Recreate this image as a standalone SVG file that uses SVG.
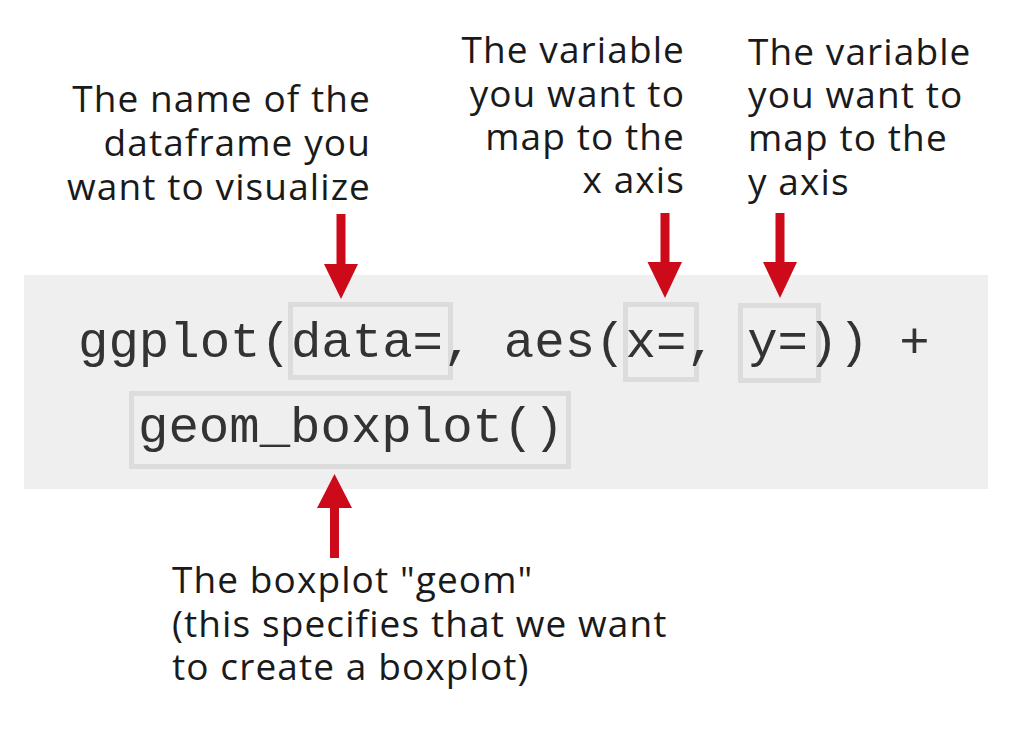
<svg xmlns="http://www.w3.org/2000/svg" width="1010" height="740" viewBox="0 0 1010 740">
<style>
.lbl{font-family:"Open Sans","Liberation Sans",sans-serif;font-size:37px;fill:#1a1a1a;letter-spacing:1.1px}
.code{font-family:"Liberation Mono","Courier New",monospace;font-size:50.7px;fill:#333333}
.box{fill:none;stroke:#dcdcdc;stroke-width:5}
.arr{fill:#cc0a19}
</style>
<rect width="1010" height="740" fill="#ffffff"/>
<g id="code-band">
<rect x="24" y="275" width="964" height="214" fill="#efefef"/>
</g>
<g id="box-data"><rect class="box" x="290.5" y="304.5" width="160" height="73"/></g>
<g id="box-x"><rect class="box" x="625.5" y="304.5" width="71" height="75"/></g>
<g id="box-y"><rect class="box" x="740.5" y="305.5" width="78" height="75"/></g>
<g id="box-geom"><rect class="box" x="131.5" y="393.5" width="437" height="73"/></g>
<g id="code">
<text class="code" x="78" y="357" xml:space="preserve">ggplot(data=, aes(x=, y=)) +</text>
<text class="code" x="138" y="442">geom_boxplot()</text>
</g>
<g id="label-data">
<text class="lbl" text-anchor="end" x="371" y="112">The name of the</text>
<text class="lbl" text-anchor="end" x="371" y="156">dataframe you</text>
<text class="lbl" text-anchor="end" x="371" y="200">want to visualize</text>
</g>
<g id="label-x">
<text class="lbl" text-anchor="end" x="685" y="63">The variable</text>
<text class="lbl" text-anchor="end" x="685" y="107">you want to</text>
<text class="lbl" text-anchor="end" x="685" y="150">map to the</text>
<text class="lbl" text-anchor="end" x="685" y="193">x axis</text>
</g>
<g id="label-y">
<text class="lbl" x="748" y="65">The variable</text>
<text class="lbl" x="748" y="108">you want to</text>
<text class="lbl" x="748" y="151">map to the</text>
<text class="lbl" x="748" y="195">y axis</text>
</g>
<g id="label-geom">
<text class="lbl" x="172" y="593">The boxplot "geom"</text>
<text class="lbl" x="172" y="637">(this specifies that we want</text>
<text class="lbl" x="172" y="680">to create a boxplot)</text>
</g>
<g id="connectors">
<path class="arr" d="M336.5 214 H345.5 V264 H358 L341 299 L324 264 H336.5 Z"/>
<path class="arr" d="M660.5 213 H669.5 V262 H682 L665 298 L647.5 262 H660.5 Z"/>
<path class="arr" d="M775.5 213 H784.5 V262 H797 L780 298 L763 262 H775.5 Z"/>
<path class="arr" d="M330 558 H339 V508 H352 L334.5 474 L317 508 H330 Z"/>
</g>
</svg>
